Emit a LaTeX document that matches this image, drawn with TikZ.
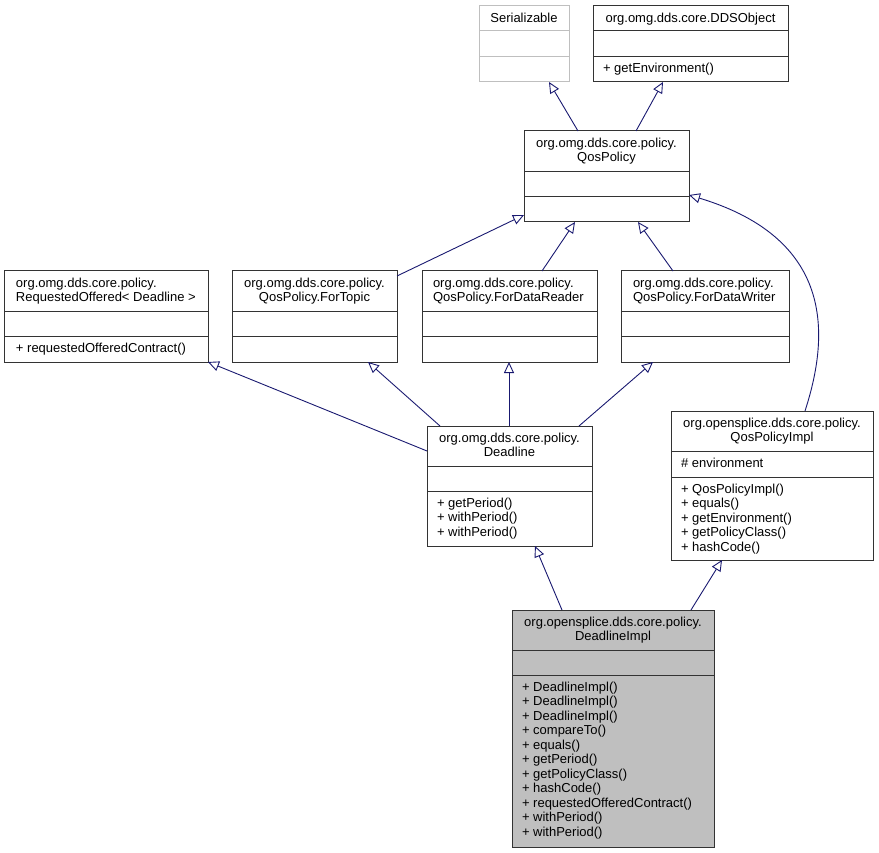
\documentclass[tikz,border=0pt]{standalone}
\usepackage{fontspec}
\setmainfont{Liberation Sans}
\usetikzlibrary{arrows.meta}
\definecolor{edgeblue}{HTML}{191970}
\definecolor{implgray}{HTML}{BFBFBF}
\definecolor{boxdraw}{HTML}{333333}
\begin{document}
\begin{tikzpicture}[x=1pt,y=-1pt,
  box/.style={draw=boxdraw, line width=1pt, inner sep=0pt, outer sep=0pt, anchor=north west},
  sect/.style={draw=boxdraw, line width=1pt},
  extbox/.style={draw=implgray},
  extsect/.style={draw=implgray, line width=1pt},
  txt/.style={inner sep=0pt, outer sep=0pt, font=\fontsize{13}{14.5}\selectfont},
  ctitle/.style={txt, anchor=north, align=center},
  ltitle/.style={txt, anchor=north west, align=left},
  mem/.style={txt, anchor=north west, align=left},
  inh/.style={draw=edgeblue, line width=0.9pt, -{Triangle[open, length=11pt, width=10pt]}},
]
\useasboundingbox (0,0) rectangle (879,853);

% ---------- boxes ----------
\node[box, extbox, minimum width=90pt, minimum height=76pt] (ser) at (479,6) {};
\node[box, minimum width=195pt, minimum height=76pt] (dds) at (593,6) {};
\node[box, minimum width=165pt, minimum height=91pt] (qp) at (524,131) {};
\node[box, minimum width=204pt, minimum height=91pt] (ro) at (4,271) {};
\node[box, minimum width=165pt, minimum height=91pt] (ft) at (232,271) {};
\node[box, minimum width=175pt, minimum height=91pt] (fdr) at (422,271) {};
\node[box, minimum width=168pt, minimum height=91pt] (fdw) at (621,271) {};
\node[box, minimum width=165pt, minimum height=120pt] (dl) at (427,426) {};
\node[box, minimum width=202pt, minimum height=149pt] (qpi) at (671,411) {};
\node[box, fill=implgray, minimum width=202pt, minimum height=237pt] (di) at (512,610) {};

% ---------- section separators ----------
\draw[extsect] (479,31) -- (569,31) (479,57) -- (569,57);
\draw[sect] (593,31) -- (788,31) (593,57) -- (788,57);
\draw[sect] (524,172) -- (689,172) (524,197) -- (689,197);
\draw[sect] (4,312) -- (208,312) (4,337) -- (208,337);
\draw[sect] (232,312) -- (397,312) (232,337) -- (397,337);
\draw[sect] (422,312) -- (597,312) (422,337) -- (597,337);
\draw[sect] (621,312) -- (789,312) (621,337) -- (789,337);
\draw[sect] (427,466) -- (592,466) (427,491) -- (592,491);
\draw[sect] (671,451) -- (873,451) (671,477) -- (873,477);
\draw[sect] (512,650) -- (714,650) (512,675) -- (714,675);

% ---------- texts ----------
\node[ctitle] (ser-t) at (524,12) {\strut Serializable};
\node[ctitle] (dds-t) at (690.5,12) {\strut org.omg.dds.core.DDSObject};
\node[mem] (dds-m) at (603,62) {\strut + getEnvironment()};

\node[ctitle] (qp-t) at (606.5,137) {\strut org.omg.dds.core.policy.\\QosPolicy};

\node[ltitle] (ro-t) at (16,277) {\strut org.omg.dds.core.policy.\\RequestedOffered< Deadline >};
\node[mem] (ro-m) at (16,342) {\strut + requestedOfferedContract()};

\node[ctitle] (ft-t) at (314.5,277) {\strut org.omg.dds.core.policy.\\QosPolicy.ForTopic};
\node[ltitle] (fdr-t) at (433,277) {\strut org.omg.dds.core.policy.\\QosPolicy.ForDataReader};
\node[ltitle] (fdw-t) at (633,277) {\strut org.omg.dds.core.policy.\\QosPolicy.ForDataWriter};

\node[ctitle] (dl-t) at (509.5,432) {\strut org.omg.dds.core.policy.\\Deadline};
\node[mem] (dl-m) at (437,497) {\strut + getPeriod()\\+ withPeriod()\\+ withPeriod()};

\node[ctitle] (qpi-t) at (772,417) {\strut org.opensplice.dds.core.policy.\\QosPolicyImpl};
\node[mem] (qpi-a) at (681,457) {\strut \# environment};
\node[mem] (qpi-m) at (681,483) {\strut + QosPolicyImpl()\\+ equals()\\+ getEnvironment()\\+ getPolicyClass()\\+ hashCode()};

\node[ctitle] (di-t) at (613,616) {\strut org.opensplice.dds.core.policy.\\DeadlineImpl};
\node[mem] (di-m) at (522,681) {\strut + DeadlineImpl()\\+ DeadlineImpl()\\+ DeadlineImpl()\\+ compareTo()\\+ equals()\\+ getPeriod()\\+ getPolicyClass()\\+ hashCode()\\+ requestedOfferedContract()\\+ withPeriod()\\+ withPeriod()};

% ---------- inheritance connectors ----------
\draw[inh] ([xshift=54pt]qp.north west) -- ([xshift=70pt]ser.south west);
\draw[inh] ([xshift=112pt]qp.north west) -- ([xshift=70pt]dds.south west);
\draw[inh] ([yshift=-5pt]ft.north east) -- ([yshift=7pt]qp.south west);
\draw[inh] ([xshift=120pt]fdr.north west) -- ([xshift=51pt]qp.south west);
\draw[inh] ([xshift=52pt]fdw.north west) -- ([xshift=114pt]qp.south west);
\draw[inh] ([yshift=-25pt]dl.north west) -- (ro.south east);
\draw[inh] ([xshift=13pt]dl.north west) -- ([xshift=136pt]ft.south west);
\draw[inh] ([xshift=82pt]dl.north west) -- ([xshift=87pt]fdr.south west);
\draw[inh] ([xshift=152pt]dl.north west) -- ([xshift=32pt]fdw.south west);
\draw[inh] ([xshift=50pt]di.north west) -- ([xshift=108pt]dl.south west);
\draw[inh] ([xshift=179pt]di.north west) -- ([xshift=51pt]qpi.south west);
\draw[inh] ([xshift=134pt]qpi.north west) .. controls (828,340) and (838,240) .. ([yshift=27pt]qp.south east);
\end{tikzpicture}
\end{document}
